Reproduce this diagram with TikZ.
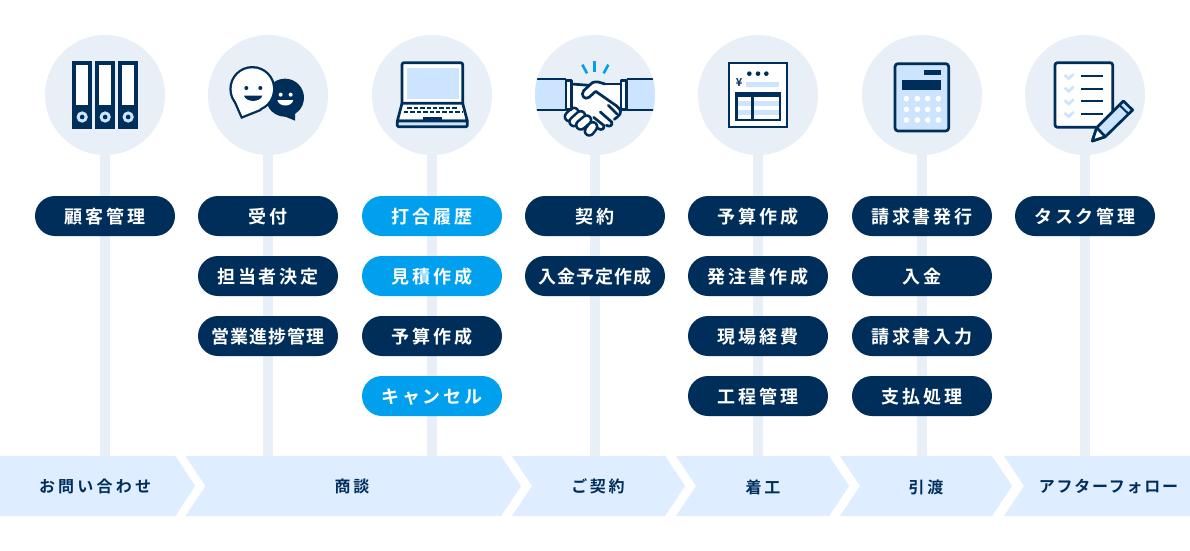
\documentclass[tikz,border=0pt]{standalone}
\usepackage{fontspec}
\newfontfamily\cjkw[LetterSpace=16]{Noto Sans CJK JP Bold}
\newfontfamily\cjkn[LetterSpace=5]{Noto Sans CJK JP Bold}
\newfontfamily\cjkba[LetterSpace=20]{Noto Sans CJK JP Bold}
\newfontfamily\cjkbb[LetterSpace=17]{Noto Sans CJK JP Bold}
\newfontfamily\cjkbc[LetterSpace=11]{Noto Sans CJK JP Bold}
\definecolor{navy}{HTML}{002E5A}
\definecolor{sky}{HTML}{00A0EF}
\definecolor{halo}{HTML}{E9EFF6}
\definecolor{band}{HTML}{DEEDFF}
\definecolor{pale}{HTML}{CCE4FD}
\tikzset{
  x=1pt,y=-1pt,
  disc/.style={circle,fill=halo,minimum size=120pt,inner sep=0pt},
  bar/.style={draw=halo,line width=10pt},
  pill/.style={rectangle,rounded corners=20pt,fill=navy,text=white,minimum width=140pt,minimum height=40pt,inner sep=0pt,text height=16.5pt,text depth=1pt,font=\fontsize{18}{20}\selectfont\cjkw},
  pilln/.style={pill,font=\fontsize{18}{20}\selectfont\cjkn},
  skypill/.style={pill,fill=sky},
  chev/.style={fill=band},
  lab/.style={text=navy,inner sep=0pt,font=\fontsize{16}{18}\selectfont\cjkbb},
  ink/.style={draw=navy,line width=2.7pt,line join=round},
}
\begin{document}
\begin{tikzpicture}
\useasboundingbox (0,0) rectangle (1190,550);
\fill[white] (0,0) rectangle (1190,550);
% discs and stems
\foreach \n/\cx in {1/105,2/268,3/432,4/595,5/758,6/922,7/1085}{
  \node[disc] (c\n) at (\cx,95) {};
  \coordinate (e\n) at (\cx,458);
  \draw[bar] (c\n.south) -- (e\n);
}
% pills
\node[pill] (p11) at (105,216) {顧客管理};
\node[pill] (p21) at (268,216) {受付};
\node[pill] (p22) at (268,276) {担当者決定};
\node[pilln] (p23) at (268,336) {営業進捗管理};
\node[pill,skypill] (p31) at (432,216) {打合履歴};
\node[pill,skypill] (p32) at (432,276) {見積作成};
\node[pill] (p33) at (432,336) {予算作成};
\node[pill,skypill] (p34) at (432,396) {キャンセル};
\node[pill] (p41) at (595,216) {契約};
\node[pilln] (p42) at (595,276) {入金予定作成};
\node[pill] (p51) at (758,216) {予算作成};
\node[pill] (p52) at (758,276) {発注書作成};
\node[pill] (p53) at (758,336) {現場経費};
\node[pill] (p54) at (758,396) {工程管理};
\node[pill] (p61) at (922,216) {請求書発行};
\node[pill] (p62) at (922,276) {入金};
\node[pill] (p63) at (922,336) {請求書入力};
\node[pill] (p64) at (922,396) {支払処理};
\node[pill] (p71) at (1085,216) {タスク管理};
% process band
\fill[chev] (0,456) -- (175.5,456) -- (195,486) -- (175.5,516) -- (0,516) -- cycle;
\fill[chev] (185.5,456) -- (501,456) -- (521,486) -- (501,516) -- (185.5,516) -- (205.5,486) -- cycle;
\fill[chev] (512,456) -- (665,456) -- (685,486) -- (665,516) -- (512,516) -- (532,486) -- cycle;
\fill[chev] (676,456) -- (829,456) -- (849,486) -- (829,516) -- (676,516) -- (696,486) -- cycle;
\fill[chev] (840,456) -- (992,456) -- (1012,486) -- (992,516) -- (840,516) -- (860,486) -- cycle;
\fill[chev] (1004,456) -- (1190,456) -- (1190,516) -- (1004,516) -- (1024,486) -- cycle;
\node[lab,font=\fontsize{16}{18}\selectfont\cjkba] (b1) at (95,486) {お問い合わせ};
\node[lab] (b2) at (352,486.5) {商談};
\node[lab] (b3) at (598,486) {ご契約};
\node[lab] (b4) at (763,487) {着工};
\node[lab] (b5) at (926,487) {引渡};
\node[lab,font=\fontsize{16}{18}\selectfont\cjkbc] (b6) at (1108.5,486.5) {アフターフォロー};
% binders + chat
\begin{scope}[shift={(30,20)},scale=1/3]
  \foreach \bx in {127,196,265}{
    \fill[navy] (\bx,124) rectangle (\bx+59,326);
    \fill[white] (\bx+11,135) rectangle (\bx+47,255);
    \fill[pale] (\bx+29.5,291) circle (17);
    \fill[navy] (\bx+29.5,291) circle (7);
  }
  % dark bubble
  \fill[navy] (765,233) circle (57);
  \fill[navy] (722,272) -- (795,302) -- (795,278) -- cycle;
  \fill[white] (752,224) circle (6);
  \fill[white] (782,224) circle (6);
  \fill[white] (742,240) -- (790,240) .. controls (785,262) and (747,262) .. (742,240) -- cycle;
  % white bubble: heavy stroke, then white fill leaves its outer half as outline
  \draw[navy,line width=4.6pt,line join=miter] (667,207) circle (62);
  \draw[navy,line width=4.6pt,line join=miter] (618,245) -- (637,288) -- (692,266);
  \fill[white] (667,207) circle (62);
  \fill[white] (618,245) -- (637,288) -- (692,266) -- cycle;
  \fill[navy] (649,204) circle (6);
  \fill[navy] (691,204) circle (6);
  \fill[navy] (642,227) -- (697,227) .. controls (690,248) and (649,248) .. (642,227) -- cycle;
\end{scope}
% laptop
\begin{scope}[shift={(360,20)},scale=1/3]
  \draw[ink,fill=white,rounded corners=2pt] (126,252) -- (126,128) -- (308,128) -- (308,252);
  \fill[pale] (140,143) rectangle (296,238);
  \draw[ink,fill=white] (126,250) -- (308,250) -- (322,303) -- (112,303) -- cycle;
  \draw[ink,fill=pale,rounded corners=1pt] (112,303) rectangle (322,320);
  \draw[navy,line width=2pt,dash pattern=on 4.4pt off 2pt] (142,263) -- (295,263);
  \draw[navy,line width=2pt,dash pattern=on 4.4pt off 2pt] (132,277) -- (305,277);
  \fill[navy] (188,290) rectangle (246,304);
\end{scope}
% handshake
\begin{scope}
  \clip (595,95) circle (60);
  \begin{scope}[shift={(555,60)},scale=1/3]
    \fill[pale] (-65,57) rectangle (33,150);
    \draw[ink] (-65,57) -- (33,57);
    \draw[ink] (-65,150) -- (33,150);
    \fill[pale] (215,57) rectangle (310,150);
    \draw[ink] (215,57) -- (310,57);
    \draw[ink] (215,150) -- (310,150);
  \end{scope}
\end{scope}
\begin{scope}[shift={(555,60)},scale=1/3]
  \foreach \a/\b/\c/\d in {82/14/96/40,118/4/118/36,160/14/146/40}{
    \draw[sky,line width=2.6pt] (\a,\b) -- (\c,\d);
  }
  % hands
  \fill[white] (50,72) -- (105,76) -- (122,66) -- (150,72) -- (198,72) -- (198,148) -- (140,205) -- (110,205) -- (50,165) -- (50,148) -- cycle;
  \draw[ink] (50,72) -- (103,76);
  \draw[ink] (150,72) -- (198,72);
  \draw[ink,fill=white,line cap=round] (150,72) .. controls (135,68) and (125,62) .. (112,68)
     -- (86,92) .. controls (76,104) and (88,122) .. (102,112) -- (122,94)
     -- (185,138) .. controls (200,150) and (200,160) .. (188,170) -- (178,178);
  \draw[ink,line cap=round] (50,148) -- (66,156);
  \draw[ink,line cap=round] (198,148) -- (192,146);
  \draw[ink,line cap=round] (160,136) -- (186,162);
  \draw[ink,line cap=round] (136,156) -- (170,186) .. controls (174,196) and (164,202) .. (154,196);
  \draw[ink,line cap=round] (116,172) -- (146,196) .. controls (150,206) and (140,212) .. (130,206) -- (116,198);
  \foreach \a/\b/\c/\d in {43/170/57/157,57/185/77/167,77/195/95/180,103/213/113/200}{
    \draw[navy,line cap=round,line width=11.5pt] (\a,\b) -- (\c,\d);
    \draw[white,line cap=round,line width=6.3pt] (\a,\b) -- (\c,\d);
  }
  \draw[ink,fill=white] (33,62) rectangle (50,148);
  \draw[ink,fill=white] (198,62) rectangle (215,148);
\end{scope}
% invoice + calculator
\begin{scope}[shift={(690,20)},scale=1/3]
  \draw[navy,line width=2.6pt,fill=white] (117.5,129) rectangle (290.5,321);
  \foreach \dx in {178,204,229}{\fill[navy] (\dx,161) circle (7);}
  \node[text=navy,inner sep=0pt,font=\fontsize{11}{11}\selectfont\cjkn] (yen) at (147,189) {¥};
  \fill[pale] (168,186) rectangle (267,201);
  \fill[navy] (135,215) rectangle (272,303);
  \fill[white] (143,231) rectangle (183,296);
  \fill[white] (192,231) rectangle (266,296);
  \fill[pale] (143,244) rectangle (183,258);
  \fill[pale] (192,244) rectangle (266,258);
  \fill[pale] (143,271) rectangle (183,284);
  \fill[pale] (192,271) rectangle (266,284);
  % calculator
  \draw[ink,fill=pale,rounded corners=3pt] (615,131) rectangle (776,333);
  \fill[navy] (703,150) rectangle (754,165);
  \fill[navy] (637,179) rectangle (754,211);
  \foreach \kx in {649,682,713,745}{\foreach \ky in {236,268,300}{\fill[white] (\kx,\ky) circle (8.5);}}
\end{scope}
% checklist
\begin{scope}[shift={(1000,20)},scale=1/3]
  \draw[ink,fill=white,rounded corners=2.5pt] (165,128) rectangle (338,322);
  \foreach \cy in {168,206,244,282}{
    \draw[pale,line width=2.6pt] (194,\cy-3) -- (206,\cy+8) -- (221,\cy-6);
    \draw[navy,line width=2.2pt] (243,\cy) -- (310,\cy);
  }
  \draw[ink,fill=pale] (290,323) -- (370,243) -- (398,270) -- (316,350) -- (277,363) -- cycle;
  \draw[ink,fill=white] (290,323) -- (316,350) -- (277,363) -- cycle;
  \draw[ink,line width=2pt] (358,255) -- (386,282);
\end{scope}
\end{tikzpicture}
\end{document}
